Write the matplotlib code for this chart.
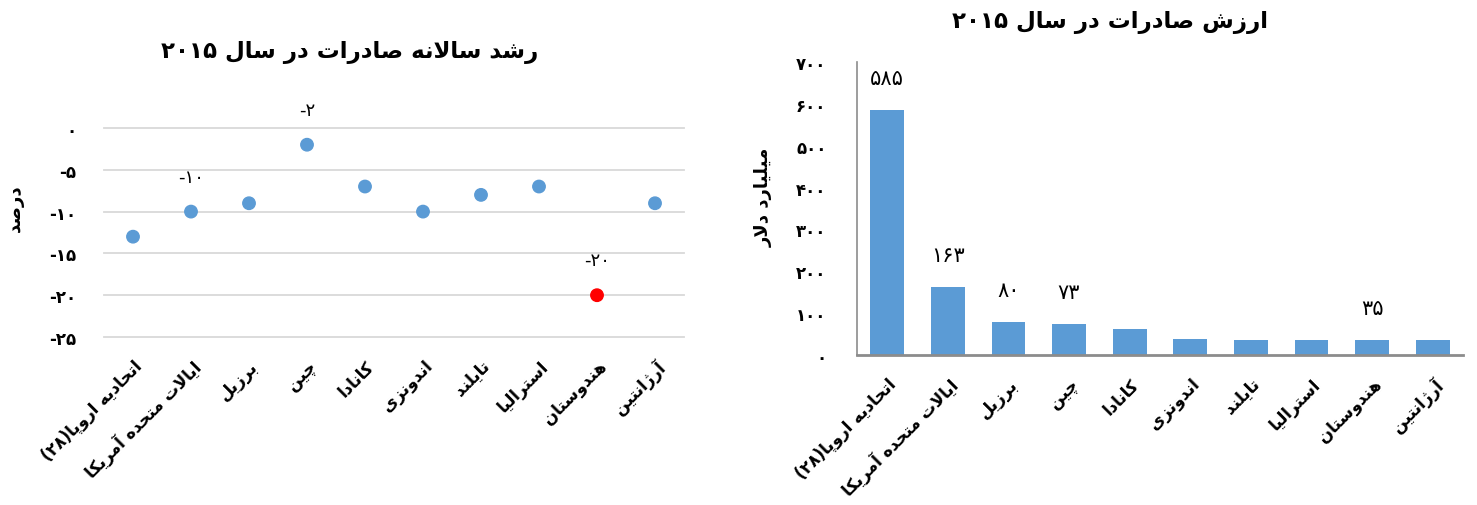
import re
import matplotlib
matplotlib.use("Agg")
import matplotlib.pyplot as plt

# data
countries = ["اتحادیه اروپا(۲۸)", "ایالات متحده آمریکا", "برزیل", "چین", "کانادا",
             "اندونزی", "تایلند", "استرالیا", "هندوستان", "آرژانتین"]
growth = [-13, -10, -9, -2, -7, -10, -8, -7, -20, -9]
export_value = [585, 163, 80, 73, 62, 38, 35, 35, 35, 35]
growth_labeled = [1, 3, 8]
value_labeled = [0, 1, 2, 3, 8]
growth_ticks = [0, -5, -10, -15, -20, -25]
value_ticks = [0, 100, 200, 300, 400, 500, 600, 700]
highlight = 8  # India in red

title_left = "رشد سالانه صادرات در سال ۲۰۱۵"
title_right = "ارزش صادرات در سال ۲۰۱۵"
ylabel_left = "درصد"
ylabel_right = "میلیارد دلار"

BLUE = "#5B9BD5"
FONT = ["DejaVu Sans"]

# --- tiny arabic/persian shaper (matplotlib has no text shaping) ---
# (isolated, final, initial, medial)
FORMS = {
    'ا': ('\uFE8D', '\uFE8E', None, None),
    'آ': ('\uFE81', '\uFE82', None, None),
    'ب': ('\uFE8F', '\uFE90', '\uFE91', '\uFE92'),
    'پ': ('\uFB56', '\uFB57', '\uFB58', '\uFB59'),
    'ت': ('\uFE95', '\uFE96', '\uFE97', '\uFE98'),
    'چ': ('\uFB7A', '\uFB7B', '\uFB7C', '\uFB7D'),
    'ح': ('\uFEA1', '\uFEA2', '\uFEA3', '\uFEA4'),
    'د': ('\uFEA9', '\uFEAA', None, None),
    'ر': ('\uFEAD', '\uFEAE', None, None),
    'ز': ('\uFEAF', '\uFEB0', None, None),
    'ژ': ('\uFB8A', '\uFB8B', None, None),
    'س': ('\uFEB1', '\uFEB2', '\uFEB3', '\uFEB4'),
    'ش': ('\uFEB5', '\uFEB6', '\uFEB7', '\uFEB8'),
    'ص': ('\uFEB9', '\uFEBA', '\uFEBB', '\uFEBC'),
    'ک': ('\uFB8E', '\uFB8F', '\uFB90', '\uFB91'),
    'ل': ('\uFEDD', '\uFEDE', '\uFEDF', '\uFEE0'),
    'م': ('\uFEE1', '\uFEE2', '\uFEE3', '\uFEE4'),
    'ن': ('\uFEE5', '\uFEE6', '\uFEE7', '\uFEE8'),
    'و': ('\uFEED', '\uFEEE', None, None),
    'ه': ('\uFEE9', '\uFEEA', '\uFEEB', '\uFEEC'),
    'ی': ('\uFBFC', '\uFBFD', '\uFBFE', '\uFBFF'),
}
LAM_ALEF = {'ا': ('\uFEFB', '\uFEFC'), 'آ': ('\uFEF5', '\uFEF6')}


def joins_left(c):
    return c in FORMS and FORMS[c][2] is not None


def shape(text):
    out = []
    i = 0
    n = len(text)
    while i < n:
        c = text[i]
        if c not in FORMS:
            out.append(c)
            i += 1
            continue
        pj = i > 0 and joins_left(text[i - 1])
        if c == 'ل' and i + 1 < n and text[i + 1] in LAM_ALEF:
            lig = LAM_ALEF[text[i + 1]]
            out.append(lig[1] if pj else lig[0])
            i += 2
            continue
        nj = joins_left(c) and i + 1 < n and text[i + 1] in FORMS
        iso, fin, ini, med = FORMS[c]
        if pj and nj:
            out.append(med)
        elif pj:
            out.append(fin)
        elif nj:
            out.append(ini)
        else:
            out.append(iso)
        i += 1
    return "".join(out)


def fa(text):
    s = shape(text)[::-1]
    s = re.sub('[۰-۹0-9]+', lambda m: m.group(0)[::-1], s)
    return s.translate(str.maketrans('()', ')('))


def fa_num(v):
    return str(v).translate(str.maketrans('0123456789', '۰۱۲۳۴۵۶۷۸۹'))


W, H = 1477, 506
fig = plt.figure(figsize=(W / 100, H / 100), dpi=100)

# ---------- left: growth scatter ----------
ax1 = fig.add_axes([104 / W, 1 - 338 / H, 580 / W, 209 / H])
xs = list(range(len(countries)))
colors = ["#FF0000" if i == highlight else BLUE for i in xs]
ax1.scatter(xs, growth, s=80, c=colors, zorder=3, clip_on=False)
ax1.set_xlim(-0.5, len(countries) - 0.5)
ax1.set_ylim(-25, 0)
ax1.set_yticks(growth_ticks)
ax1.set_yticklabels([fa_num(t) for t in growth_ticks], family=FONT,
                    fontsize=12, fontweight="bold")
ax1.yaxis.grid(True, color="#D9D9D9", lw=1.3)
for gl in ax1.get_ygridlines():
    gl.set_clip_on(False)
ax1.set_axisbelow(True)
ax1.set_xticks(xs)
ax1.set_xticklabels([fa(c) for c in countries], rotation=45, ha="right",
                    va="top", rotation_mode="anchor", family=FONT,
                    fontsize=12, fontweight="bold")
ax1.tick_params(axis="y", length=0, pad=20)
ax1.tick_params(axis="x", length=0, pad=14)
for sp in ax1.spines.values():
    sp.set_visible(False)
for i in growth_labeled:
    ax1.annotate(fa_num(growth[i]), (i, growth[i]), xytext=(0, 25),
                 textcoords="offset points", ha="center", va="center",
                 family=FONT, fontsize=13, annotation_clip=False)
ax1.set_ylabel(fa(ylabel_left), family=FONT, fontsize=13, fontweight="bold",
               rotation=90)
ax1.yaxis.set_label_coords(-80 / 580, 0.62)
fig.text(350 / W, 1 - 52 / H, fa(title_left), family=FONT, fontsize=16.5,
         fontweight="bold", ha="center", va="center")

# ---------- right: export value bars ----------
ax2 = fig.add_axes([857 / W, 1 - 356 / H, 606 / W, 293 / H])
ax2.bar(xs, export_value, width=0.56, color=BLUE, zorder=2)
ax2.set_xlim(-0.5, len(countries) - 0.5)
ax2.set_ylim(0, 700)
ax2.set_yticks(value_ticks)
ax2.set_yticklabels([fa_num(t) for t in value_ticks], family=FONT,
                    fontsize=12, fontweight="bold")
ax2.set_xticks(xs)
ax2.set_xticklabels([fa(c) for c in countries], rotation=45, ha="right",
                    va="top", rotation_mode="anchor", family=FONT,
                    fontsize=12, fontweight="bold")
ax2.tick_params(axis="y", length=0, pad=22)
ax2.tick_params(axis="x", length=0, pad=14)
ax2.spines["top"].set_visible(False)
ax2.spines["right"].set_visible(False)
ax2.spines["left"].set_color("#8C8C8C")
ax2.spines["left"].set_linewidth(1.2)
ax2.spines["bottom"].set_color("#8C8C8C")
ax2.spines["bottom"].set_linewidth(2)
for i in value_labeled:
    ax2.annotate(fa_num(export_value[i]), (i, export_value[i]), xytext=(0, 23),
                 textcoords="offset points", ha="center", va="center",
                 family=FONT, fontsize=15)
ax2.set_ylabel(fa(ylabel_right), family=FONT, fontsize=13, fontweight="bold",
               rotation=90)
ax2.yaxis.set_label_coords(-84 / 606, 0.54)
fig.text(1110 / W, 1 - 22 / H, fa(title_right), family=FONT, fontsize=16.5,
         fontweight="bold", ha="center", va="center")

fig.savefig("out.png", dpi=100)
